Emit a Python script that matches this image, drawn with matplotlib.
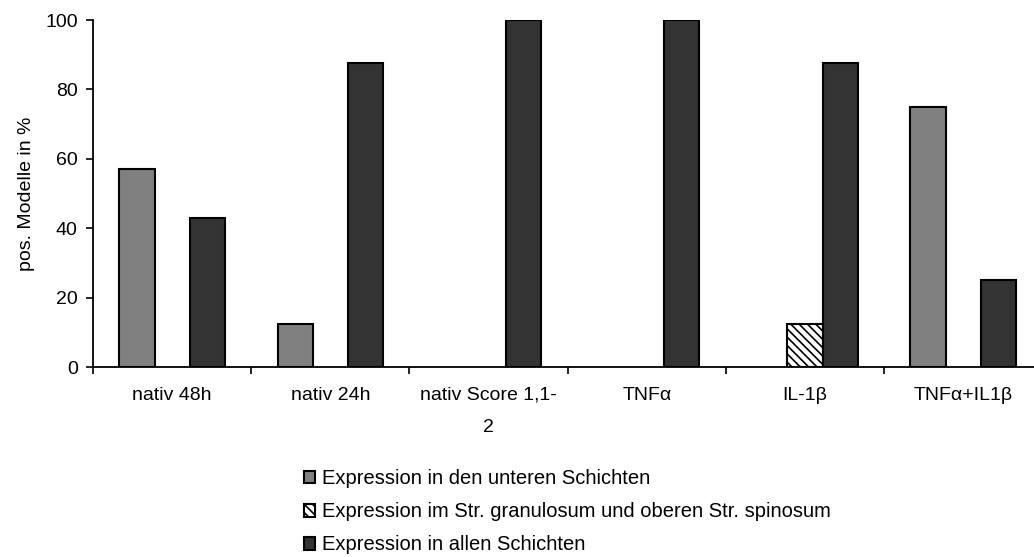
import numpy as np
import matplotlib
matplotlib.use("Agg")
import matplotlib.pyplot as plt

plt.rcParams["font.family"] = ["Liberation Sans", "DejaVu Sans"]
plt.rcParams["hatch.color"] = "#909090"
plt.rcParams["hatch.linewidth"] = 1.2

categories = ["nativ 48h", "nativ 24h", "nativ Score 1,1-\n2", "TNFα", "IL-1β", "TNFα+IL1β"]
untere = [57.1, 12.5, 0, 0, 0, 75.0]
granulosum = [0, 0, 0, 0, 12.5, 0]
alle = [42.9, 87.5, 100, 100, 87.5, 25.0]
series_labels = [
    "Expression in den unteren Schichten",
    "Expression im Str. granulosum und oberen Str. spinosum",
    "Expression in allen Schichten",
]

fs = 14
fig = plt.figure(figsize=(10.34, 5.57), dpi=100)
# the category axis runs slightly past the right edge of the figure
ax = fig.add_axes([0.09, 0.341, 0.918, 0.623])

x = np.arange(len(categories)) + 0.5
w = 0.222
styles = [
    dict(color="#808080"),
    dict(color="white", hatch="\\\\\\\\"),
    dict(color="#333333"),
]
handles = []
for i, (vals, st) in enumerate(zip([untere, granulosum, alle], styles)):
    pos = x + (i - 1) * w
    keep = [v > 0 for v in vals]
    b = ax.bar(pos[keep], np.array(vals)[keep], width=w, edgecolor="black",
               linewidth=1.5, zorder=2, **st)
    handles.append(b)

ax.set_xlim(0, 6)
ax.set_ylim(0, 100)
ax.set_yticks([0, 20, 40, 60, 80, 100])
ax.set_xticks(np.arange(0, 7))
ax.set_xticklabels([])
ax.set_xticks(x, minor=True)
ax.set_xticklabels(categories, minor=True, fontsize=fs, linespacing=2.2, va="top")
ax.tick_params(axis="x", which="minor", length=0, pad=14)
ax.tick_params(axis="x", which="major", direction="out", length=5, width=1.2)
ax.tick_params(axis="y", direction="out", length=5, width=1.2, labelsize=fs, pad=6)
ax.spines["top"].set_visible(False)
ax.spines["right"].set_visible(False)
ax.spines["left"].set_linewidth(1.3)
ax.spines["bottom"].set_linewidth(1.3)
ax.set_ylabel("pos. Modelle in %", fontsize=fs, labelpad=7)

fig.legend(handles, series_labels, loc="upper left", bbox_to_anchor=(0.286, 0.172),
           frameon=False, fontsize=14.5, handlelength=0.58, handleheight=0.58,
           handletextpad=0.3, labelspacing=0.7, borderaxespad=0)

fig.savefig("out.png", dpi=100)
